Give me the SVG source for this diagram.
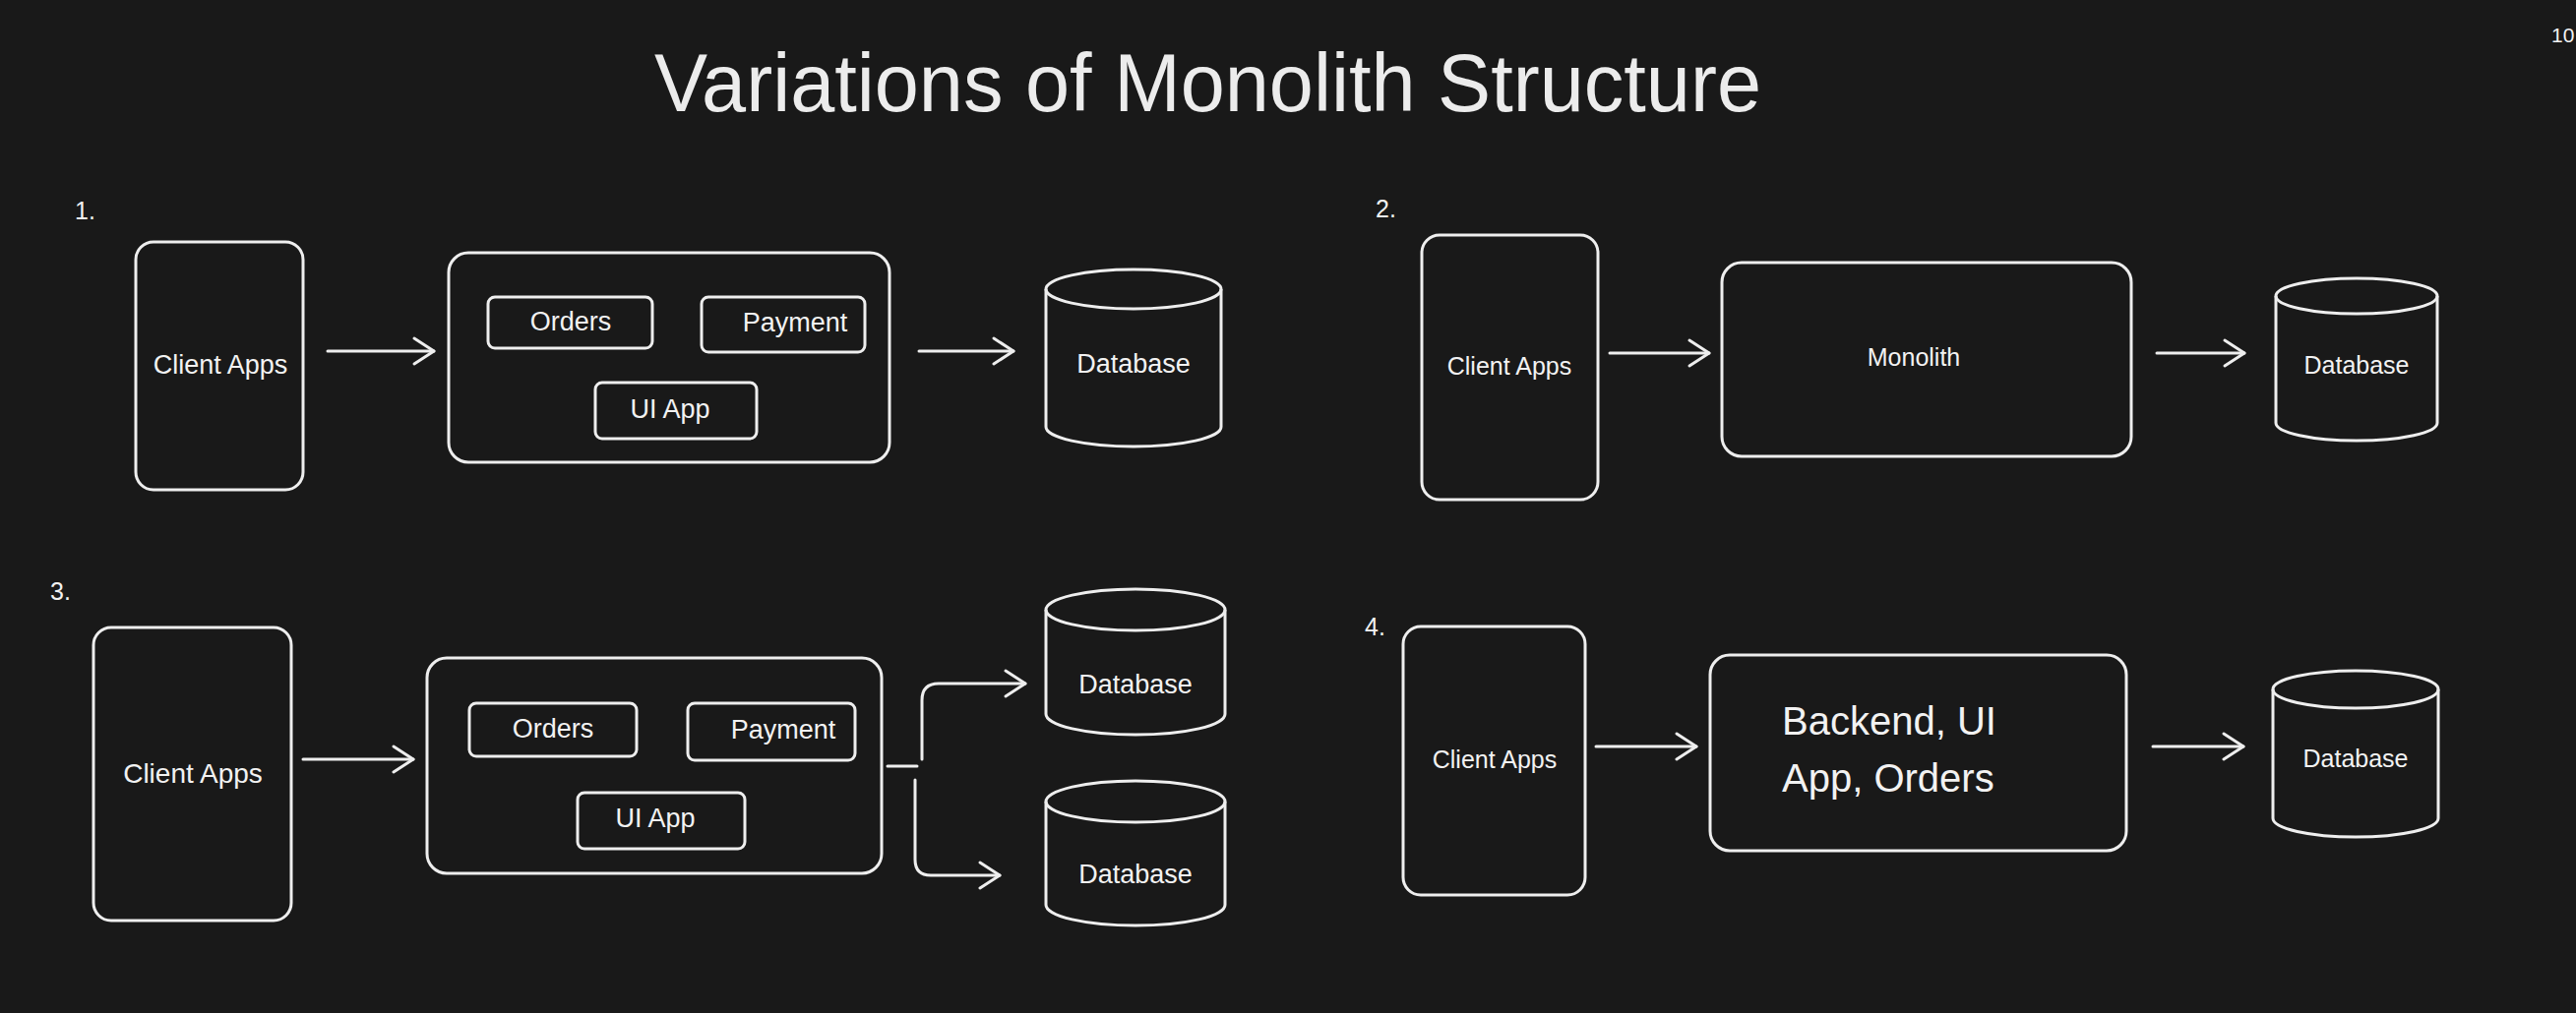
<svg xmlns="http://www.w3.org/2000/svg" width="2618" height="1030" viewBox="0 0 2618 1030">
<style>
.bg{fill:#191919}
.box{fill:none;stroke:#eeeeee;stroke-width:3;stroke-linejoin:round}
.ln{fill:none;stroke:#eeeeee;stroke-width:3;stroke-linecap:round;stroke-linejoin:round}
.t{font-family:"Liberation Sans",Arial,sans-serif;fill:#f2f2f2;text-anchor:middle}
.num{font-family:"Liberation Sans",Arial,sans-serif;fill:#f2f2f2;font-size:25px}
</style>
<defs>
<marker id="ah" viewBox="-24 -16 28 32" refX="0" refY="0" markerWidth="28" markerHeight="32" markerUnits="userSpaceOnUse" orient="auto">
<path d="M-20,-13 L0,0 L-20,13" fill="none" stroke="#eeeeee" stroke-width="3" stroke-linecap="round" stroke-linejoin="round"/>
</marker>
</defs>
<rect class="bg" x="0" y="0" width="2618" height="1030"/>
<text x="665" y="113" font-family="Liberation Sans, Arial, sans-serif" font-size="84" fill="#ececec" textLength="1125" lengthAdjust="spacingAndGlyphs">Variations of Monolith Structure</text>
<text x="2593" y="43" font-family="Liberation Sans, Arial, sans-serif" font-size="21" fill="#f2f2f2">10</text>
<text class="num" x="76" y="223">1.</text>
<text class="num" x="1398" y="221">2.</text>
<text class="num" x="51" y="610">3.</text>
<text class="num" x="1387" y="646">4.</text>

<!-- Variation 1 -->
<g id="v1-client"><rect class="box" x="138" y="246" width="170" height="252" rx="18"/><text class="t" x="224" y="380" font-size="27">Client Apps</text></g>
<g id="v1-container"><rect class="box" x="456" y="257" width="448" height="213" rx="20"/></g>
<g id="v1-orders"><rect class="box" x="496" y="302" width="167" height="52" rx="7"/><text class="t" x="580" y="336" font-size="27">Orders</text></g>
<g id="v1-payment"><rect class="box" x="713" y="302" width="166" height="56" rx="7"/><text class="t" x="808" y="337" font-size="27">Payment</text></g>
<g id="v1-uiapp"><rect class="box" x="605" y="389" width="164" height="57" rx="7"/><text class="t" x="681" y="425" font-size="27">UI App</text></g>
<g id="v1-db"><path class="box" d="M1063,294 L1063,434 A89,20 0 0 0 1241,434 L1241,294"/><ellipse class="box" cx="1152" cy="294" rx="89" ry="20"/><text class="t" x="1152" y="379" font-size="27">Database</text></g>

<!-- Variation 2 -->
<g id="v2-client"><rect class="box" x="1445" y="239" width="179" height="269" rx="18"/><text class="t" x="1534" y="381" font-size="25">Client Apps</text></g>
<g id="v2-monolith"><rect class="box" x="1750" y="267" width="416" height="197" rx="20"/><text class="t" x="1945" y="372" font-size="25">Monolith</text></g>
<g id="v2-db"><path class="box" d="M2313,301 L2313,430 A82,18 0 0 0 2477,430 L2477,301"/><ellipse class="box" cx="2395" cy="301" rx="82" ry="18"/><text class="t" x="2395" y="380" font-size="25">Database</text></g>

<!-- Variation 3 -->
<g id="v3-client"><rect class="box" x="95" y="638" width="201" height="298" rx="18"/><text class="t" x="196" y="796" font-size="28">Client Apps</text></g>
<g id="v3-container"><rect class="box" x="434" y="669" width="462" height="219" rx="20"/></g>
<g id="v3-orders"><rect class="box" x="477" y="715" width="170" height="54" rx="7"/><text class="t" x="562" y="750" font-size="27">Orders</text></g>
<g id="v3-payment"><rect class="box" x="699" y="715" width="170" height="58" rx="7"/><text class="t" x="796" y="751" font-size="27">Payment</text></g>
<g id="v3-uiapp"><rect class="box" x="587" y="806" width="170" height="57" rx="7"/><text class="t" x="666" y="841" font-size="27">UI App</text></g>
<g id="v3-db1"><path class="box" d="M1063,620 L1063,726 A91,21 0 0 0 1245,726 L1245,620"/><ellipse class="box" cx="1154" cy="620" rx="91" ry="21"/><text class="t" x="1154" y="705" font-size="27">Database</text></g>
<g id="v3-db2"><path class="box" d="M1063,815 L1063,920 A91,21 0 0 0 1245,920 L1245,815"/><ellipse class="box" cx="1154" cy="815" rx="91" ry="21"/><text class="t" x="1154" y="898" font-size="27">Database</text></g>

<!-- Variation 4 -->
<g id="v4-client"><rect class="box" x="1426" y="637" width="185" height="273" rx="18"/><text class="t" x="1519" y="781" font-size="25">Client Apps</text></g>
<g id="v4-backend"><rect class="box" x="1738" y="666" width="423" height="199" rx="20"/><text x="1811" y="747" font-family="Liberation Sans, Arial, sans-serif" font-size="40" fill="#f2f2f2">Backend, UI</text><text x="1811" y="805" font-family="Liberation Sans, Arial, sans-serif" font-size="40" fill="#f2f2f2">App, Orders</text></g>
<g id="v4-db"><path class="box" d="M2310,701 L2310,832 A84,19 0 0 0 2478,832 L2478,701"/><ellipse class="box" cx="2394" cy="701" rx="84" ry="19"/><text class="t" x="2394" y="780" font-size="25">Database</text></g>

<g id="connectors">
<path class="ln" d="M333,357 L441,357" marker-end="url(#ah)"/>
<path class="ln" d="M934,357 L1030,357" marker-end="url(#ah)"/>
<path class="ln" d="M1636,359 L1737,359" marker-end="url(#ah)"/>
<path class="ln" d="M2192,359 L2281,359" marker-end="url(#ah)"/>
<path class="ln" d="M308,772 L420,772" marker-end="url(#ah)"/>
<path class="ln" d="M902,779 L932,779"/>
<path class="ln" d="M937,772 L937,712 Q937,695 954,695 L1042,695" marker-end="url(#ah)"/>
<path class="ln" d="M930,793 L930,874 Q930,890 946,890 L1016,890" marker-end="url(#ah)"/>
<path class="ln" d="M1622,759 L1724,759" marker-end="url(#ah)"/>
<path class="ln" d="M2188,759 L2280,759" marker-end="url(#ah)"/>
</g>
</svg>
